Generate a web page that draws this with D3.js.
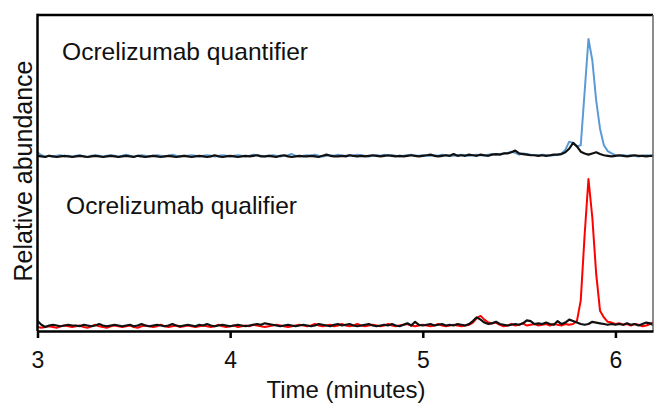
<!DOCTYPE html>
<html>
<head>
<meta charset="utf-8">
<script src="https://cdn.jsdelivr.net/npm/d3@7"></script>
<style>
  body { margin: 0; background: #fff; }
  text { font-family: "Liberation Sans", Arial, sans-serif; fill: #111; }
</style>
</head>
<body>
<script>
// sampling grid of the chromatogram (minutes), one point every 0.02 min
var timeStart = 3, timeStep = 0.02;

// relative abundance, upper panel (quantifier transition), % of peak
var quantSample = [
  4, 1.5, 0.5, 1, 0.5, 1, 1.5, 0.5, 1, 0.5,
  1, 1.5, 0.5, 0, 1, 1.5, 1, 0.5, 1, 1.5,
  1, 0.5, 1, 2, 1, 0.5, 1, 1.5, 1, 0.5,
  1, 1.5, 1, 0.5, 1, 2, 1, 0.5, 1, 1,
  1.5, 1, 0.5, 1, 1.5, 1, 0.5, 1, 1.5, 1,
  0.5, 1, 1.5, 1, 0.5, 1, 2, 1.5, 1, 0.5,
  1, 1.5, 1, 0.5, 1, 1.5, 2.5, 1, 0.5, 1,
  1.5, 1, 2, 1, 0.5, 1, 1.5, 1, 2, 1,
  1, 1.5, 1, 2, 1.5, 1, 0.5, 1, 1.5, 1,
  2, 1, 1.5, 1, 0.5, 1, 1.5, 2, 1, 1,
  1.5, 1, 1, 1.5, 1, 2, 1.5, 1, 1, 1.5,
  2, 1.5, 1, 1.5, 2, 1.5, 1, 2, 2.5, 2,
  2.5, 3, 3.5, 4.5, 3.5, 2, 3, 2.5, 2, 1.5,
  1.5, 2, 1.5, 1, 1.5, 2, 3, 6, 13, 12,
  9, 10, 55, 100, 82, 48, 24, 10, 5, 3,
  1.5, 1, 1.5, 1, 1.5, 1, 0.5, 1, 1.5, 1,
  1.5
];
var quantBlank = [
  1, 0.5, 0, 1, 0.5, 0, 0.5, 1, 0.5, 0,
  0.5, 1, 0.5, 0, 0.5, 1, 0.5, 0, 0.5, 1,
  0.5, 0, 0.5, 1, 0.5, 0, 1, 0.5, 0, 0.5,
  1, 0.5, 0, 0.5, 1, 0.5, 0, 0.5, 1, 0.5,
  0, 0.5, 1, 0.5, 0, 0.5, 1.5, 0.5, 0, 0.5,
  1, 0.5, 0, 0.5, 1, 0.5, 1, 1.5, 0.5, 0.5,
  1, 0.5, 0, 1, 1.5, 0.5, 0, 0.5, 1, 0.5,
  0.5, 1, 0.5, 0, 1, 2, 1, 0.5, 0.5, 1,
  0.5, 1.5, 1, 0.5, 1, 0.5, 1, 1.5, 1, 0.5,
  1, 1.5, 1, 0.5, 1, 0.5, 1, 1.5, 1, 0.5,
  1, 1.5, 2, 1, 0.5, 1, 1.5, 1, 2.5, 1,
  1.5, 1, 2, 1.5, 1, 2, 1.5, 1, 2, 2.5,
  2, 3, 3, 4, 5.5, 3, 2.5, 2, 1.5, 1.5,
  1, 1.5, 1, 1.5, 2, 2, 2.5, 4, 7, 12,
  9, 4.5, 3, 2, 3, 4, 2.5, 1.5, 1, 0.5,
  1, 1.5, 1, 0.5, 1, 1.5, 1, 1, 0.5, 1,
  1
];

// relative abundance, lower panel (qualifier transition), % of peak
var qualSample = [
  0, -0.5, 0, 0.5, 0, -0.5, 0.5, 1, 0.5, 0,
  0.5, 1, 0, -0.5, 0.5, 1.5, 0.5, 0, -0.5, 0.5,
  1, 0.5, 0, 0.5, 1, 0, -0.5, 0.5, 1, 0.5,
  0, 0.5, 1.5, 0.5, 0, 0.5, 1, 0, 0.5, 1,
  0.5, 0, 0.5, 1, 0.5, 0, 0.5, 1.5, 0.5, 0,
  0.5, 1, 0, 0.5, 1, 0.5, 1.5, 1, 0.5, 0,
  0.5, 1, 1.5, 1, 0.5, 0, 0.5, 1, 1.5, 1,
  0.5, 1, 2, 1, 0.5, 1, 1.5, 0.5, 1, 2,
  1, 0.5, 1, 2, 1, 0.5, 1, 1.5, 1, 0.5,
  1, 2, 1, 0.5, 1, 1.5, 2, 1, 0.5, 1,
  1.5, 1, 0.5, 1, 2, 1, 0.5, 1, 1.5, 1,
  0.5, 1, 1.5, 3, 6, 7.5, 5, 3, 2.5, 3,
  1.5, 0.5, 1, 2, 1, 1.5, 2.5, 1, 1.5, 2,
  1, 1.5, 2, 1, 2, 1.5, 1, 2, 1.5, 2,
  4, 18, 62, 100, 74, 36, 11, 6.5, 3.5, 3,
  2, 2.5, 1.5, 2, 1, 2, 1.5, 0.5, 1, 2,
  3.5, 1
];
var qualBlank = [
  4, 1.5, 0, 1, 1.5, 1, 0.5, 1, 1.5, 1,
  1, 0.5, 1.5, 1, 0.5, 1, 2, 1, 0.5, 1,
  1.5, 1, 0.5, 1, 1.5, 0.5, 1, 2, 1, 0.5,
  1, 1.5, 1, 0.5, 1, 2, 1, 0.5, 1, 1.5,
  1, 0.5, 1.5, 1, 2, 1, 0.5, 1, 1.5, 1,
  0.5, 1, 1.5, 1, 0.5, 1, 1.5, 2, 1.5, 2.5,
  2, 1.5, 1, 0.5, 1, 1.5, 1, 0.5, 1, 1.5,
  1, 0.5, 1, 2, 1.5, 1, 0.5, 1.5, 2, 1,
  1.5, 2, 1, 0.5, 1, 1.5, 2, 1, 0.5, 1,
  1.5, 1, 2, 1, 0.5, 1.5, 2.5, 1, 3.5, 1.5,
  1, 1.5, 2, 1, 1.5, 2, 1, 1.5, 1, 2,
  1.5, 1, 2, 4, 6.5, 5, 3, 2, 2.5, 3.5,
  2, 1.5, 1, 1.5, 2, 1.5, 2.5, 4.5, 4, 2,
  2.5, 2, 3, 2, 1.5, 4, 2, 3, 5, 4,
  3, 2, 1.5, 2, 3.5, 3, 2.5, 2, 1.5, 2,
  1.5, 2, 1.5, 2.5, 1.5, 2, 1, 2, 3, 2.5,
  1
];

var xTicks = [3, 4, 5, 6];
var panelLabels = ["Ocrelizumab quantifier", "Ocrelizumab qualifier"];

var width = 654, height = 403;
var mLeft = 37.5, mRight = 653, mTop = 15, mBottom = 331;

var svg = d3.select("body").append("svg")
    .attr("width", width)
    .attr("height", height);

svg.append("rect").attr("width", width).attr("height", height).attr("fill", "#fff");

var x = d3.scaleLinear().domain([3, 6.195]).range([mLeft, mRight]);

// each panel gets its own intensity scale (baseline -> apex)
var yTop = d3.scaleLinear().domain([0, 100]).range([157, 39]);
var yBot = d3.scaleLinear().domain([0, 100]).range([327, 179]);

function toPoints(values) {
  return values.map(function(v, i) { return [timeStart + i * timeStep, v]; });
}

svg.append("clipPath").attr("id", "plotClip")
  .append("rect")
    .attr("x", mLeft).attr("y", mTop)
    .attr("width", mRight - mLeft).attr("height", mBottom - mTop);

var plot = svg.append("g").attr("clip-path", "url(#plotClip)");

function drawTrace(values, yScale, color, w) {
  var line = d3.line()
      .x(function(d) { return x(d[0]); })
      .y(function(d) { return yScale(d[1]); });
  plot.append("path")
      .datum(toPoints(values))
      .attr("fill", "none")
      .attr("stroke", color)
      .attr("stroke-width", w)
      .attr("stroke-linejoin", "round")
      .attr("d", line);
}

drawTrace(quantSample, yTop, "#5b9bd5", 2);
drawTrace(quantBlank, yTop, "#111", 2.2);
drawTrace(qualSample, yBot, "#ff0000", 2);
drawTrace(qualBlank, yBot, "#111", 2.2);

// frame: heavy top line, light right edge
svg.append("line")
    .attr("x1", mLeft).attr("x2", mRight).attr("y1", mTop).attr("y2", mTop)
    .attr("stroke", "#000").attr("stroke-width", 2.5);
svg.append("line")
    .attr("x1", mRight).attr("x2", mRight).attr("y1", mTop).attr("y2", mBottom)
    .attr("stroke", "#666").attr("stroke-width", 1.5);
svg.append("line")
    .attr("x1", mLeft).attr("x2", mLeft).attr("y1", mTop - 1.25).attr("y2", mBottom)
    .attr("stroke", "#000").attr("stroke-width", 2.5);

var xAxis = d3.axisBottom(x)
    .tickValues(xTicks)
    .tickFormat(d3.format("d"))
    .tickSizeInner(7)
    .tickSizeOuter(0)
    .tickPadding(14);

var gx = svg.append("g")
    .attr("transform", "translate(0," + mBottom + ")")
    .call(xAxis);
gx.select(".domain").attr("stroke", "#000").attr("stroke-width", 2.5);
gx.selectAll(".tick line").attr("stroke", "#000").attr("stroke-width", 2.5);
gx.selectAll(".tick text")
    .attr("font-size", 23)
    .attr("font-family", "Liberation Sans, Arial, sans-serif")
    .attr("fill", "#111");

svg.append("text")
    .attr("x", 346).attr("y", 398)
    .attr("text-anchor", "middle")
    .attr("font-size", 24)
    .text("Time (minutes)");

svg.append("text")
    .attr("transform", "translate(32,171) rotate(-90)")
    .attr("text-anchor", "middle")
    .attr("font-size", 25)
    .text("Relative abundance");

svg.append("text").attr("x", 62).attr("y", 60).attr("font-size", 24.6).text(panelLabels[0]);
svg.append("text").attr("x", 66).attr("y", 214).attr("font-size", 24.6).text(panelLabels[1]);
</script>
</body>
</html>
